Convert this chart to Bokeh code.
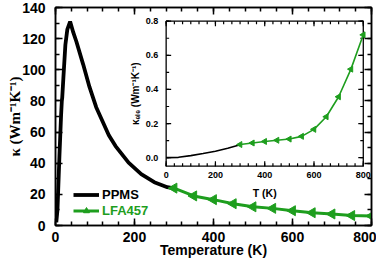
import math
from bokeh.plotting import figure
from bokeh.models import Range1d, LinearAxis, SingleIntervalTicker, Legend, LegendItem, CustomLabelingPolicy
from bokeh.core.properties import value
from bokeh.embed import file_html
from bokeh.resources import INLINE

# ---------------- data ----------------
ppms_T = [2, 5, 10, 14, 16, 17, 20, 25, 30, 37, 45, 53, 70, 86, 103, 119,
          135, 152, 185, 217, 250, 283, 300]
ppms_k = [2, 10, 45, 70, 80, 82, 95, 116, 126, 131, 124, 118, 103.5, 89, 76,
          67, 58, 51, 40.4, 33, 27.8, 24.6, 23.8]
lfa_T = [300, 350, 400, 450, 500, 550, 600, 650, 700, 750, 800]
lfa_k = [24, 19, 16.6, 14, 12, 11, 9.5, 8.2, 7.4, 6.4, 6.1]

ele_T_ppms = [0, 50, 100, 150, 200, 250, 300]
ele_k_ppms = [0.0, 0.002, 0.012, 0.024, 0.038, 0.055, 0.076]
ele_T_lfa = [300, 350, 400, 450, 500, 550, 600, 650, 700, 750, 800]
ele_k_lfa = [0.077, 0.086, 0.095, 0.102, 0.109, 0.125, 0.166, 0.24, 0.357,
             0.519, 0.72]

main_labels = ["PPMS", "LFA457"]

inset_x_ticks = [0, 200, 400, 600, 800]
inset_x_tick_labels = ["0", "200", "400", "600", "800"]
inset_y_ticks = [0.0, 0.2, 0.4, 0.6, 0.8]
inset_y_tick_labels = ["0.0", "0.2", "0.4", "0.6", "0.8"]
inset_x_lim = (0, 800)
inset_y_lim = (-0.05, 0.8)

GREEN = "#1e9e1e"
SANS = "Liberation Sans"
SERIF = "Liberation Serif"
NO_LABELS = ("try { for (const i of indices) { indices.unset(i) } } "
             "catch (e) {} return indices")

# ---------------- main figure ----------------
W, H = 376, 261
ML, MR, MT, MB = 55, 2, 7, 36
FW, FH = W - ML - MR, H - MT - MB

p = figure(width=W, height=H, x_range=Range1d(0, 800), y_range=Range1d(0, 140),
           output_backend="svg", toolbar_location=None,
           min_border_left=ML, min_border_right=MR, min_border_top=MT,
           min_border_bottom=MB,
           x_axis_label="Temperature (K)", y_axis_label="κ (Wm⁻¹K⁻¹)")
p.grid.visible = False
p.outline_line_color = "black"
p.outline_line_width = 1.5

xt = SingleIntervalTicker(interval=200, num_minor_ticks=5)
yt = SingleIntervalTicker(interval=20, num_minor_ticks=2)
p.xaxis.ticker = xt
p.yaxis.ticker = yt

def style_axis(ax, fs, tin, tmin, width=1.5):
    ax.major_tick_out = 0
    ax.major_tick_in = tin
    ax.minor_tick_out = 0
    ax.minor_tick_in = tmin
    ax.axis_line_width = width
    ax.major_tick_line_width = width
    ax.minor_tick_line_width = width
    ax.major_label_text_font = SANS
    ax.major_label_text_font_style = "bold"
    ax.major_label_text_font_size = fs
    ax.major_label_text_color = "black"
    ax.axis_label_text_font = SANS
    ax.axis_label_text_font_style = "bold"
    ax.axis_label_text_color = "black"

for ax in p.xaxis + p.yaxis:
    style_axis(ax, "14px", 7, 4)
p.xaxis.major_label_standoff = 6
p.xaxis.axis_label_standoff = -3
p.xaxis.axis_label_text_font_size = "14px"
p.yaxis.major_label_standoff = 10
p.yaxis.axis_label_standoff = -4
p.yaxis.axis_label_text_font = SERIF
p.yaxis.axis_label_text_font_size = "15px"

for tk, loc in ((xt, "above"), (yt, "right")):
    ax = LinearAxis(ticker=tk)
    style_axis(ax, "1px", 7, 4)
    ax.major_label_standoff = 0
    ax.major_label_policy = CustomLabelingPolicy(code=NO_LABELS)
    p.add_layout(ax, loc)

r_ppms = p.line(ppms_T, ppms_k, line_color="black", line_width=3.8)
r_lfa_l = p.line(lfa_T, lfa_k, line_color=GREEN, line_width=3)
r_lfa_m = p.scatter(lfa_T, lfa_k, marker="triangle", angle=math.pi / 2,
                    size=10, fill_color=GREEN, line_color=GREEN)

def make_legend(label, renderers, color, loc):
    leg = Legend(items=[LegendItem(label=label, renderers=renderers)],
                 location=loc, padding=0, margin=0, spacing=0,
                 glyph_width=26, glyph_height=15, label_height=15,
                 label_standoff=3, border_line_color=None,
                 background_fill_alpha=0,
                 label_text_font=SANS, label_text_font_style="bold",
                 label_text_font_size="13px", label_text_color=color)
    p.add_layout(leg)

make_legend(main_labels[0], [r_ppms], "black", (18, 23))
make_legend(main_labels[1], [r_lfa_l, r_lfa_m], GREEN, (18, 7))

# ---------------- inset (drawn on extra ranges) ----------------
# inset frame position inside the main frame, in screen px
IL, IR, IT, IB = 111.7, 310.7, 13.7, 158.7
x0, x1 = inset_x_lim
y0, y1 = inset_y_lim
ppx = (IR - IL) / (x1 - x0)
ppy = (IB - IT) / (y1 - y0)
p.extra_x_ranges = {"ix": Range1d(x0 - IL / ppx, x1 + (FW - IR) / ppx)}
p.extra_y_ranges = {"iy": Range1d(y0 - (FH - IB) / ppy, y1 + IT / ppy)}
kw = dict(x_range_name="ix", y_range_name="iy")

p.quad(left=[x0], right=[x1], bottom=[y0], top=[y1], fill_color="white",
       line_color="black", line_width=1.3, **kw)

xmin = [x0 + i * 200 / 6 for i in range(25)]
ymin = [i * 0.1 for i in range(9)]
TK = dict(line_color="black", line_width=1.2, length_units="screen", **kw)
p.ray(x=xmin, y=[y0] * len(xmin), length=3, angle=math.pi / 2, **TK)
p.ray(x=xmin, y=[y1] * len(xmin), length=3, angle=-math.pi / 2, **TK)
p.ray(x=inset_x_ticks, y=[y0] * 5, length=5, angle=math.pi / 2, **TK)
p.ray(x=inset_x_ticks, y=[y1] * 5, length=5, angle=-math.pi / 2, **TK)
p.ray(x=[x0] * len(ymin), y=ymin, length=3, angle=0, **TK)
p.ray(x=[x1] * len(ymin), y=ymin, length=3, angle=math.pi, **TK)
p.ray(x=[x0] * 5, y=inset_y_ticks, length=5, angle=0, **TK)
p.ray(x=[x1] * 5, y=inset_y_ticks, length=5, angle=math.pi, **TK)

TX = dict(text_font=value(SANS), text_font_style="bold", text_color="black", **kw)
p.text(x=inset_x_ticks, y=[y0] * 5, text=inset_x_tick_labels, y_offset=6,
       text_align="center", text_baseline="top", text_font_size="9px", **TX)
p.text(x=[x0] * 5, y=inset_y_ticks, text=inset_y_tick_labels, x_offset=-8,
       text_align="right", text_baseline="middle", text_font_size="9px", **TX)
p.text(x=[(x0 + x1) / 2], y=[y0], text=["T (K)"], y_offset=27,
       text_align="center", text_baseline="middle", text_font_size="10.5px", **TX)
p.text(x=[x0], y=[(y0 + y1) / 2], text=["κₑₗₑ (Wm⁻¹K⁻¹)"], x_offset=-31,
       angle=math.pi / 2, text_align="center", text_baseline="middle",
       text_font_size="10px", **TX)

p.line(ele_T_ppms, ele_k_ppms, line_color="black", line_width=1.6, **kw)
p.line(ele_T_lfa, ele_k_lfa, line_color=GREEN, line_width=1.6, **kw)
p.scatter(ele_T_lfa, ele_k_lfa, marker="triangle", angle=math.pi / 2,
          size=6, fill_color=GREEN, line_color=GREEN, **kw)

open("out.html", "w").write(file_html(p, INLINE))
